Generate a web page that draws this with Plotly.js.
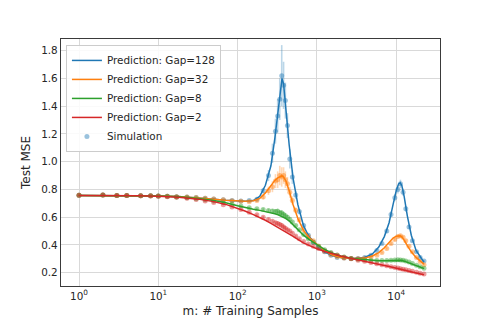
<!DOCTYPE html>
<html>
<head>
<meta charset="utf-8">
<script src="https://cdn.plot.ly/plotly-3.0.1.min.js"></script>
<style>
  html, body { margin: 0; padding: 0; background: #fff; }
  #chart { width: 490px; height: 327px; }
</style>
</head>
<body>
<div id="chart"></div>
<script>
// Prediction curves: sample positions (m) and test MSE per gap
var mCurve = [1, 1.8, 3.2, 5.6, 10, 18, 32, 50, 71, 100, 126, 158, 190, 224, 263, 295, 324, 347, 363, 380, 407, 447, 501, 575, 676, 794, 1000, 1259, 1585, 1995, 2818, 3981, 5012, 6026, 7079, 8128, 9120, 10000, 10715, 11220, 11749, 12589, 13804, 15488, 17783, 22387];
var gap128 = [0.757, 0.757, 0.756, 0.755, 0.753, 0.749, 0.740, 0.730, 0.722, 0.716, 0.714, 0.720, 0.750, 0.830, 0.970, 1.170, 1.380, 1.540, 1.600, 1.560, 1.380, 1.120, 0.880, 0.690, 0.540, 0.460, 0.400, 0.348, 0.322, 0.309, 0.302, 0.310, 0.335, 0.385, 0.460, 0.560, 0.690, 0.790, 0.840, 0.848, 0.830, 0.750, 0.610, 0.470, 0.360, 0.275];
var gap32 = [0.757, 0.757, 0.756, 0.755, 0.753, 0.749, 0.740, 0.730, 0.722, 0.716, 0.714, 0.718, 0.735, 0.775, 0.830, 0.865, 0.885, 0.895, 0.897, 0.890, 0.860, 0.790, 0.690, 0.590, 0.505, 0.455, 0.405, 0.356, 0.326, 0.310, 0.303, 0.305, 0.320, 0.345, 0.380, 0.420, 0.450, 0.463, 0.468, 0.466, 0.458, 0.435, 0.395, 0.350, 0.310, 0.262];
var gap8 = [0.757, 0.757, 0.756, 0.755, 0.752, 0.747, 0.735, 0.720, 0.704, 0.682, 0.668, 0.657, 0.649, 0.641, 0.632, 0.625, 0.617, 0.610, 0.605, 0.600, 0.589, 0.573, 0.545, 0.510, 0.470, 0.440, 0.400, 0.366, 0.340, 0.320, 0.303, 0.293, 0.288, 0.286, 0.286, 0.287, 0.289, 0.290, 0.290, 0.289, 0.287, 0.283, 0.275, 0.264, 0.250, 0.230];
var gap2 = [0.757, 0.757, 0.756, 0.754, 0.751, 0.744, 0.730, 0.712, 0.692, 0.664, 0.643, 0.618, 0.598, 0.578, 0.556, 0.540, 0.527, 0.516, 0.510, 0.503, 0.493, 0.480, 0.462, 0.440, 0.415, 0.397, 0.372, 0.353, 0.336, 0.320, 0.300, 0.284, 0.270, 0.260, 0.252, 0.244, 0.238, 0.233, 0.229, 0.226, 0.223, 0.219, 0.213, 0.206, 0.198, 0.185];

// Simulation runs: sample positions, mean MSE and spread per gap
var mSim = [1, 2, 3, 4, 6, 8, 10, 13, 17, 23, 30, 39, 50, 66, 85, 110, 140, 175, 210, 245, 275, 300, 320, 340, 360, 380, 400, 425, 455, 490, 540, 600, 680, 780, 900, 1050, 1250, 1500, 1800, 2200, 2700, 3300, 4000, 4800, 5700, 6600, 7600, 8600, 9600, 10500, 11300, 12200, 13200, 14500, 16000, 18000, 20000, 22400];
var sim128 = [0.758, 0.759, 0.757, 0.757, 0.755, 0.754, 0.753, 0.751, 0.748, 0.745, 0.741, 0.736, 0.731, 0.726, 0.720, 0.716, 0.720, 0.730, 0.790, 0.900, 1.060, 1.220, 1.330, 1.450, 1.620, 1.550, 1.440, 1.260, 1.020, 0.890, 0.760, 0.640, 0.540, 0.470, 0.420, 0.380, 0.350, 0.325, 0.310, 0.305, 0.302, 0.302, 0.310, 0.325, 0.360, 0.410, 0.500, 0.620, 0.740, 0.800, 0.840, 0.780, 0.660, 0.530, 0.430, 0.350, 0.310, 0.285];
var err128 = [0.004, 0.004, 0.004, 0.004, 0.004, 0.004, 0.004, 0.004, 0.004, 0.004, 0.004, 0.004, 0.004, 0.004, 0.004, 0.005, 0.008, 0.012, 0.020, 0.040, 0.070, 0.090, 0.120, 0.150, 0.220, 0.170, 0.130, 0.090, 0.070, 0.050, 0.030, 0.020, 0.015, 0.010, 0.008, 0.006, 0.005, 0.004, 0.004, 0.004, 0.004, 0.004, 0.005, 0.006, 0.008, 0.010, 0.015, 0.020, 0.025, 0.030, 0.030, 0.025, 0.020, 0.015, 0.010, 0.008, 0.006, 0.005];
var sim32 = [0.758, 0.759, 0.757, 0.757, 0.755, 0.754, 0.753, 0.751, 0.748, 0.745, 0.741, 0.736, 0.731, 0.725, 0.719, 0.715, 0.712, 0.720, 0.745, 0.790, 0.820, 0.860, 0.870, 0.900, 0.890, 0.900, 0.870, 0.840, 0.780, 0.720, 0.650, 0.580, 0.510, 0.460, 0.430, 0.390, 0.355, 0.330, 0.315, 0.306, 0.302, 0.301, 0.304, 0.312, 0.325, 0.345, 0.375, 0.410, 0.440, 0.460, 0.466, 0.455, 0.430, 0.390, 0.350, 0.310, 0.280, 0.258];
var err32 = [0.004, 0.004, 0.004, 0.004, 0.004, 0.004, 0.004, 0.004, 0.004, 0.004, 0.004, 0.004, 0.004, 0.004, 0.004, 0.005, 0.006, 0.010, 0.015, 0.030, 0.040, 0.050, 0.060, 0.070, 0.070, 0.060, 0.060, 0.050, 0.040, 0.030, 0.020, 0.015, 0.010, 0.008, 0.006, 0.004, 0.004, 0.004, 0.004, 0.004, 0.004, 0.004, 0.004, 0.005, 0.005, 0.006, 0.008, 0.010, 0.012, 0.012, 0.012, 0.010, 0.010, 0.008, 0.006, 0.005, 0.005, 0.004];
var sim8 = [0.758, 0.759, 0.757, 0.757, 0.755, 0.754, 0.752, 0.750, 0.745, 0.740, 0.733, 0.725, 0.717, 0.705, 0.693, 0.680, 0.668, 0.660, 0.655, 0.648, 0.644, 0.640, 0.642, 0.632, 0.630, 0.620, 0.610, 0.600, 0.585, 0.565, 0.540, 0.510, 0.475, 0.445, 0.420, 0.390, 0.365, 0.345, 0.327, 0.313, 0.303, 0.296, 0.291, 0.288, 0.287, 0.287, 0.288, 0.290, 0.292, 0.293, 0.292, 0.290, 0.285, 0.277, 0.266, 0.253, 0.242, 0.232];
var err8 = [0.004, 0.004, 0.004, 0.004, 0.004, 0.004, 0.004, 0.004, 0.004, 0.004, 0.004, 0.004, 0.004, 0.004, 0.004, 0.005, 0.006, 0.008, 0.010, 0.012, 0.015, 0.018, 0.020, 0.020, 0.022, 0.020, 0.018, 0.015, 0.012, 0.010, 0.008, 0.007, 0.006, 0.005, 0.005, 0.004, 0.004, 0.004, 0.004, 0.004, 0.004, 0.004, 0.004, 0.004, 0.004, 0.005, 0.005, 0.006, 0.006, 0.007, 0.007, 0.006, 0.006, 0.005, 0.005, 0.004, 0.004, 0.004];
var sim2 = [0.758, 0.759, 0.757, 0.757, 0.755, 0.753, 0.751, 0.748, 0.743, 0.736, 0.727, 0.716, 0.705, 0.690, 0.673, 0.655, 0.635, 0.618, 0.600, 0.583, 0.570, 0.560, 0.555, 0.548, 0.540, 0.530, 0.520, 0.510, 0.500, 0.485, 0.465, 0.445, 0.425, 0.407, 0.390, 0.375, 0.356, 0.340, 0.325, 0.312, 0.300, 0.290, 0.283, 0.274, 0.265, 0.257, 0.250, 0.243, 0.238, 0.233, 0.229, 0.225, 0.221, 0.216, 0.210, 0.203, 0.196, 0.190];
var err2 = [0.004, 0.004, 0.004, 0.004, 0.004, 0.004, 0.004, 0.004, 0.004, 0.004, 0.004, 0.004, 0.004, 0.004, 0.004, 0.005, 0.006, 0.007, 0.008, 0.010, 0.012, 0.014, 0.015, 0.016, 0.016, 0.015, 0.014, 0.012, 0.010, 0.009, 0.008, 0.006, 0.005, 0.005, 0.004, 0.004, 0.004, 0.004, 0.004, 0.004, 0.004, 0.004, 0.004, 0.004, 0.004, 0.004, 0.004, 0.004, 0.004, 0.004, 0.004, 0.004, 0.004, 0.004, 0.004, 0.004, 0.004, 0.004];

var gapNames = ['Prediction: Gap=128', 'Prediction: Gap=32', 'Prediction: Gap=8', 'Prediction: Gap=2'];
var colors = ['#1f77b4', '#ff7f0e', '#2ca02c', '#d62728'];
var rgb = ['31,119,180', '255,127,14', '44,160,44', '214,39,40'];
var xTickVals = [1, 10, 100, 1000, 10000];
var xTickText = ['10<sup>0</sup>', '10<sup>1</sup>', '10<sup>2</sup>', '10<sup>3</sup>', '10<sup>4</sup>'];

var curves = [gap128, gap32, gap8, gap2];
var sims = [sim128, sim32, sim8, sim2];
var errs = [err128, err32, err8, err2];

var data = [];

// simulation points with error bars (drawn under the lines)
for (var i = 0; i < 4; i++) {
    data.push({
        x: mSim,
        y: sims[i],
        type: 'scatter',
        mode: 'markers',
        name: 'Simulation',
        legendgroup: 'sim',
        showlegend: i === 0,
        legendrank: 5,
        hoverinfo: 'none',
        marker: { color: 'rgba(' + rgb[i] + ',0.45)', size: 5 },
        error_y: { type: 'data', array: errs[i], visible: true, color: 'rgba(' + rgb[i] + ',0.3)', thickness: 1.6, width: 0 }
    });
}

// prediction curves
for (var j = 0; j < 4; j++) {
    data.push({
        x: mCurve,
        y: curves[j],
        type: 'scatter',
        mode: 'lines',
        name: gapNames[j],
        legendrank: j + 1,
        hoverinfo: 'none',
        line: { color: colors[j], width: 1.5 }
    });
}

var layout = {
    width: 490,
    height: 327,
    margin: { l: 61, r: 50, t: 39, b: 41 },
    paper_bgcolor: '#fff',
    plot_bgcolor: '#fff',
    font: { family: 'DejaVu Sans', size: 10.4, color: '#262626' },
    showlegend: true,
    legend: {
        x: 0.013, y: 0.976, xanchor: 'left', yanchor: 'top',
        bgcolor: 'rgba(255,255,255,0.85)',
        bordercolor: '#cccccc', borderwidth: 1,
        tracegroupgap: 0,
        font: { size: 10.4 }
    },
    xaxis: {
        type: 'log',
        range: [-0.227, 4.552],
        tickvals: xTickVals,
        ticktext: xTickText,
        showgrid: true, gridcolor: '#d9d9d9', gridwidth: 1,
        showline: true, linecolor: '#3a3a3a', linewidth: 1.2, mirror: true,
        zeroline: false,
        ticks: '',
        title: { text: 'm: # Training Samples', standoff: 6 }
    },
    yaxis: {
        range: [0.104, 1.884],
        tickvals: [0.2, 0.4, 0.6, 0.8, 1.0, 1.2, 1.4, 1.6, 1.8],
        ticktext: ['0.2', '0.4', '0.6', '0.8', '1.0', '1.2', '1.4', '1.6', '1.8'],
        showgrid: true, gridcolor: '#d9d9d9', gridwidth: 1,
        showline: true, linecolor: '#3a3a3a', linewidth: 1.2, mirror: true,
        zeroline: false,
        ticks: '',
        title: { text: 'Test MSE', standoff: 8 }
    }
};

Plotly.newPlot('chart', data, layout, { staticPlot: true });
</script>
</body>
</html>
